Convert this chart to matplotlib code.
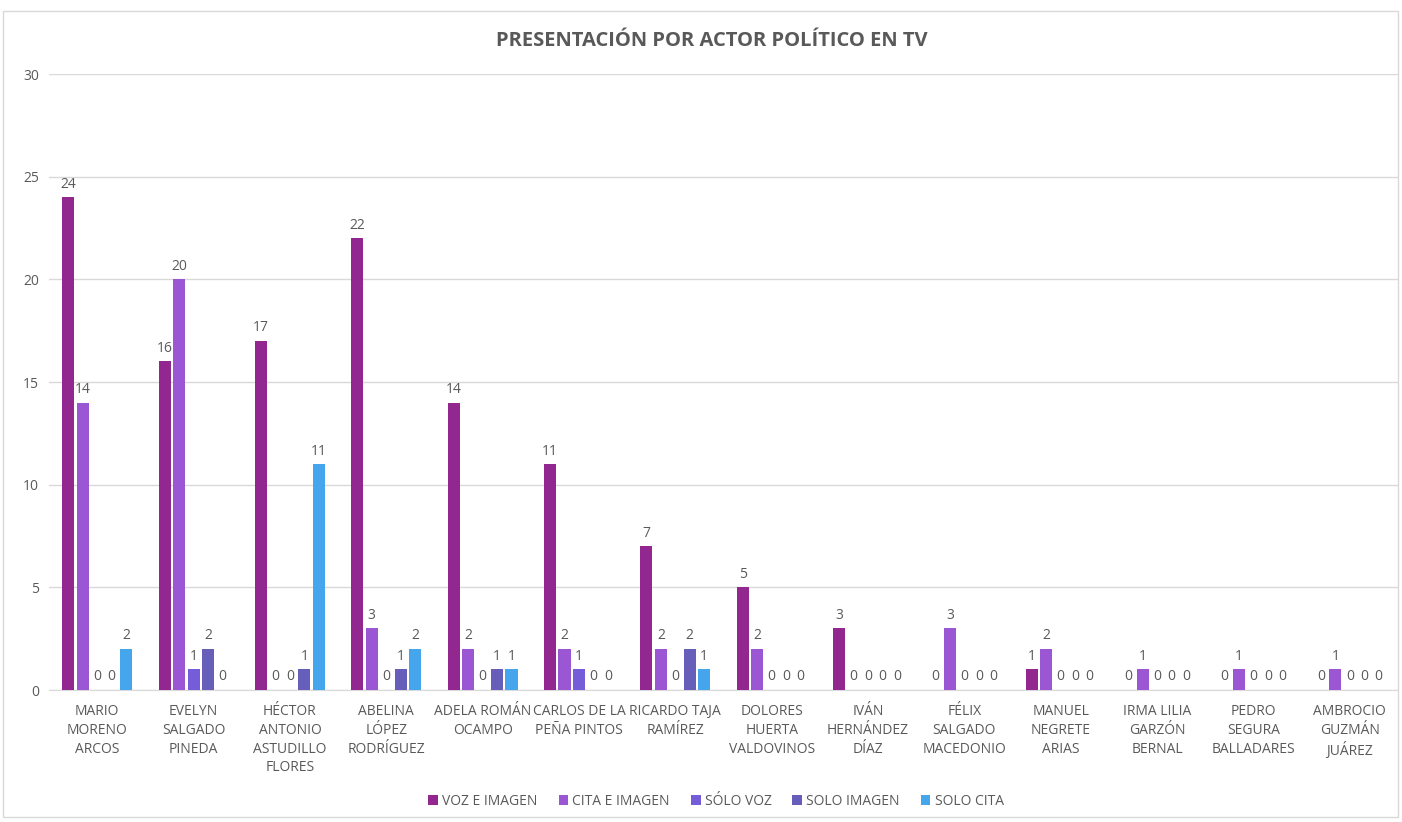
import numpy as np
import matplotlib.pyplot as plt
from matplotlib.patches import Rectangle

plt.rcParams['font.family'] = ['Open Sans', 'DejaVu Sans']

actores = ['MARIO\nMORENO\nARCOS', 'EVELYN\nSALGADO\nPINEDA', 'HÉCTOR\nANTONIO\nASTUDILLO\nFLORES',
           'ABELINA\nLÓPEZ\nRODRÍGUEZ', 'ADELA ROMÁN\nOCAMPO', 'CARLOS DE LA\nPEÑA PINTOS',
           'RICARDO TAJA\nRAMÍREZ', 'DOLORES\nHUERTA\nVALDOVINOS', 'IVÁN\nHERNÁNDEZ\nDÍAZ',
           'FÉLIX\nSALGADO\nMACEDONIO', 'MANUEL\nNEGRETE\nARIAS', 'IRMA LILIA\nGARZÓN\nBERNAL',
           'PEDRO\nSEGURA\nBALLADARES', 'AMBROCIO\nGUZMÁN\nJUÁREZ']

voz_imagen = [24, 16, 17, 22, 14, 11, 7, 5, 3, 0, 1, 0, 0, 0]
cita_imagen = [14, 20, 0, 3, 2, 2, 2, 2, 0, 3, 2, 1, 1, 1]
solo_voz = [0, 1, 0, 0, 0, 1, 0, 0, 0, 0, 0, 0, 0, 0]
solo_imagen = [0, 2, 1, 1, 1, 0, 2, 0, 0, 0, 0, 0, 0, 0]
solo_cita = [2, 0, 11, 2, 1, 0, 1, 0, 0, 0, 0, 0, 0, 0]

series = ['VOZ E IMAGEN', 'CITA E IMAGEN', 'SÓLO VOZ', 'SOLO IMAGEN', 'SOLO CITA']
valores = [voz_imagen, cita_imagen, solo_voz, solo_imagen, solo_cita]
colores = ['#92278F', '#9B57D3', '#755DD9', '#665EB8', '#45A5ED']

gris = '#595959'
fig = plt.figure(figsize=(14.02, 8.22), dpi=100)
ax = fig.add_axes([49 / 1402, 1 - 690 / 822, 1349 / 1402, (690 - 74) / 822])

x = np.arange(len(actores))
ancho = 0.125
paso = 0.15
for i, (nombre, vals, col) in enumerate(zip(series, valores, colores)):
    pos = x + (i - 2) * paso
    bars = ax.bar(pos, vals, ancho, color=col, label=nombre, zorder=3)
    ax.bar_label(bars, padding=4, fontsize=10, color=gris)

ax.set_xlim(-0.5, len(actores) - 0.5)
ax.set_ylim(0, 30)
ax.set_yticks(range(0, 31, 5))
ax.yaxis.grid(True, color='#D9D9D9', linewidth=1)
ax.set_axisbelow(True)
for s in ['top', 'right', 'left']:
    ax.spines[s].set_visible(False)
ax.spines['bottom'].set_color('#D9D9D9')
ax.tick_params(axis='y', length=0, colors=gris, labelsize=10, pad=7)
ax.tick_params(axis='x', length=0, colors=gris, labelsize=10, pad=10)
ax.set_xticks(x)
ax.set_xticklabels(actores, linespacing=1.35)

fig.suptitle('PRESENTACIÓN POR ACTOR POLÍTICO EN TV', x=0.508, y=0.962,
             fontsize=14.5, fontweight='bold', color=gris)

fig.legend(loc='center', bbox_to_anchor=(716 / 1402, 1 - 801 / 822), ncol=5, frameon=False,
           fontsize=10, labelcolor=gris, handlelength=0.7, handleheight=0.7,
           handletextpad=0.3, columnspacing=1.5)

fig.patches.append(Rectangle((3 / 1402, 5 / 822), 1395 / 1402, 806 / 822,
                             transform=fig.transFigure, fill=False,
                             edgecolor='#D9D9D9', linewidth=1))

fig.savefig('out.png', dpi=100)
